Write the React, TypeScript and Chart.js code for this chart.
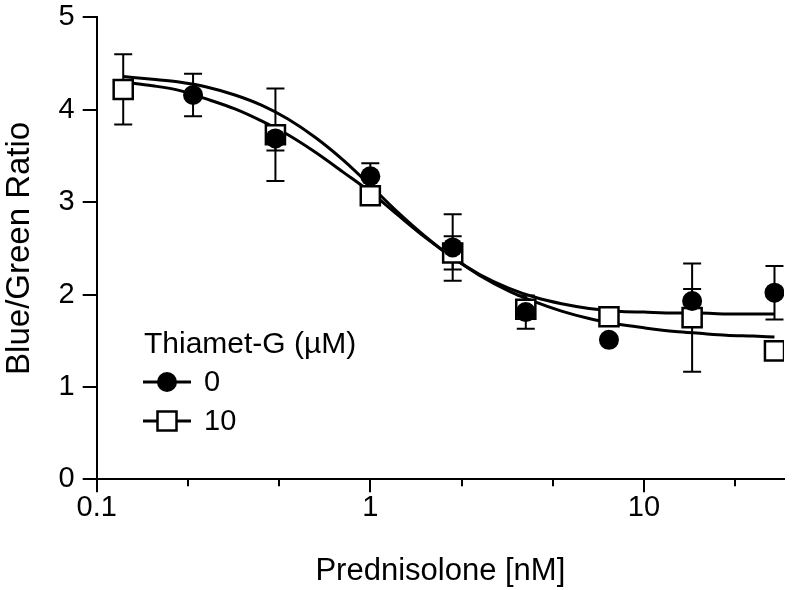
import React, { useEffect, useRef } from "react";
import { Chart, registerables } from "chart.js";

Chart.register(...registerables);

// ---- data ----
const doses = [0.125, 0.225, 0.45, 1.0, 2.0, 3.7, 7.45, 15, 30];
const ratio0 = [null, 4.16, 3.69, 3.28, 2.51, 1.81, 1.51, 1.93, 2.02];
const err0 = [null, 0.23, 0.13, 0.14, 0.36, 0.18, 0, 0.13, 0.29];
const ratio10 = [4.22, null, 3.73, 3.07, 2.45, 1.84, 1.76, 1.75, 1.39];
const err10 = [0.38, null, 0.5, 0, 0.18, 0, 0, 0.585, 0];

const fitX = [0.125, 0.16, 0.2, 0.25, 0.32, 0.4, 0.5, 0.63, 0.8, 1.0, 1.25, 1.6, 2.0, 2.5, 3.2, 4.0, 5.0, 6.3, 8.0, 10, 13, 16, 20, 25, 30];
const fit0 = [4.36, 4.33, 4.3, 4.25, 4.16, 4.05, 3.9, 3.7, 3.45, 3.18, 2.9, 2.62, 2.4, 2.22, 2.07, 1.97, 1.9, 1.85, 1.82, 1.81, 1.8, 1.8, 1.79, 1.79, 1.79];
const fit10 = [4.3, 4.26, 4.21, 4.12, 4.01, 3.88, 3.73, 3.54, 3.32, 3.11, 2.87, 2.61, 2.4, 2.21, 2.04, 1.92, 1.82, 1.74, 1.68, 1.64, 1.6, 1.58, 1.56, 1.55, 1.54];

const xTickValues = [0.1, 0.2154, 0.4642, 1, 2.154, 4.642, 10, 21.54];
const xTickLabels = ["0.1", "", "", "1", "", "", "10", ""];
const yTickValues = [0, 1, 2, 3, 4, 5];

const seriesLabels = ["0", "10"];
const legendTitle = "Thiamet-G (\u00b5M)";
const xTitle = "Prednisolone [nM]";
const yTitle = "Blue/Green Ratio";

const FONT = "'Liberation Sans', Arial, sans-serif";

const errorBarPlugin = {
  id: "errorBars",
  beforeDatasetsDraw(chart: any) {
    const { ctx } = chart;
    const xs = chart.scales.x;
    const ys = chart.scales.y;
    ctx.save();
    ctx.strokeStyle = "#000";
    ctx.lineWidth = 2;
    const series = [
      [ratio10, err10],
      [ratio0, err0],
    ];
    series.forEach(([vals, errs]: any) => {
      vals.forEach((v: number | null, i: number) => {
        const e = errs[i];
        if (v == null || !e) return;
        const px = xs.getPixelForValue(doses[i]);
        const top = ys.getPixelForValue(v + e);
        const bot = ys.getPixelForValue(v - e);
        ctx.beginPath();
        ctx.moveTo(px, top);
        ctx.lineTo(px, bot);
        ctx.moveTo(px - 9, top);
        ctx.lineTo(px + 9, top);
        ctx.moveTo(px - 9, bot);
        ctx.lineTo(px + 9, bot);
        ctx.stroke();
      });
    });
    ctx.restore();
  },
};

const axisTickPlugin = {
  id: "axisTicks",
  afterDraw(chart: any) {
    const { ctx, chartArea } = chart;
    const xs = chart.scales.x;
    const ys = chart.scales.y;
    ctx.save();
    ctx.strokeStyle = "#000";
    ctx.lineWidth = 2;
    ctx.beginPath();
    xTickValues.forEach((v, i) => {
      const px = Math.round(xs.getPixelForValue(v));
      const len = xTickLabels[i] ? 13 : 7;
      ctx.moveTo(px, chartArea.bottom);
      ctx.lineTo(px, chartArea.bottom + len);
    });
    yTickValues.forEach((v) => {
      const py = Math.round(ys.getPixelForValue(v));
      ctx.moveTo(chartArea.left - 14, py);
      ctx.lineTo(chartArea.left, py);
    });
    ctx.stroke();
    ctx.restore();
  },
};

const legendPlugin = {
  id: "customLegend",
  afterDraw(chart: any) {
    const { ctx } = chart;
    ctx.save();
    ctx.fillStyle = "#000";
    ctx.font = `30px ${FONT}`;
    ctx.textBaseline = "alphabetic";
    ctx.textAlign = "left";
    ctx.fillText(legendTitle, 144, 353);
    const rows = [382, 421];
    rows.forEach((y, i) => {
      ctx.strokeStyle = "#000";
      ctx.lineWidth = 3;
      ctx.beginPath();
      ctx.moveTo(143, y);
      ctx.lineTo(191, y);
      ctx.stroke();
      if (i === 0) {
        ctx.beginPath();
        ctx.arc(167, y, 10, 0, Math.PI * 2);
        ctx.fillStyle = "#000";
        ctx.fill();
      } else {
        ctx.fillStyle = "#fff";
        ctx.fillRect(157.5, y - 9.5, 19, 19);
        ctx.lineWidth = 2.5;
        ctx.strokeRect(157.5, y - 9.5, 19, 19);
      }
      ctx.fillStyle = "#000";
      ctx.font = `29px ${FONT}`;
      ctx.textBaseline = "middle";
      ctx.fillText(seriesLabels[i], 204, y + 1);
    });
    ctx.restore();
  },
};

export default function App() {
  const ref = useRef<HTMLCanvasElement | null>(null);

  useEffect(() => {
    document.body.style.margin = "0";
    if (!ref.current) return;
    const toPts = (xs: number[], ys: (number | null)[]) =>
      xs.map((x, i) => ({ x, y: ys[i] })).filter((p) => p.y != null);

    const hiddenGrid = (len: number) => ({
      display: true,
      drawOnChartArea: false,
      drawTicks: true,
      tickLength: len,
      tickColor: "rgba(0,0,0,0)",
      color: "rgba(0,0,0,0)",
    });

    const chart = new Chart(ref.current, {
      type: "scatter",
      data: {
        datasets: [
          {
            label: seriesLabels[0],
            data: toPts(doses, ratio0) as any,
            pointStyle: "circle",
            pointRadius: 10,
            pointHoverRadius: 10,
            backgroundColor: "#000",
            borderColor: "#000",
            borderWidth: 0,
            order: 0,
          },
          {
            label: seriesLabels[1],
            data: toPts(doses, ratio10) as any,
            pointStyle: "rect",
            pointRadius: 13.5,
            pointHoverRadius: 13.5,
            backgroundColor: "#fff",
            borderColor: "#000",
            borderWidth: 2.5,
            order: 1,
          },
          {
            label: "fit 0",
            data: toPts(fitX, fit0) as any,
            showLine: true,
            pointRadius: 0,
            borderColor: "#000",
            borderWidth: 3,
            cubicInterpolationMode: "monotone",
            fill: false,
            order: 2,
          },
          {
            label: "fit 10",
            data: toPts(fitX, fit10) as any,
            showLine: true,
            pointRadius: 0,
            borderColor: "#000",
            borderWidth: 3,
            cubicInterpolationMode: "monotone",
            fill: false,
            order: 3,
          },
        ],
      },
      options: {
        animation: false,
        responsive: true,
        maintainAspectRatio: false,
        layout: { padding: { left: 0, right: 5, top: 15, bottom: 0 } },
        plugins: {
          legend: { display: false },
          tooltip: { enabled: false },
        },
        scales: {
          x: {
            type: "logarithmic",
            position: "bottom",
            min: 0.1,
            max: 32.5,
            grid: hiddenGrid(11) as any,
            border: { display: true, color: "#000", width: 2 },
            afterBuildTicks: (s: any) => {
              s.ticks = xTickValues.map((v) => ({ value: v }));
            },
            afterFit: (s: any) => {
              s.height = 110.7;
            },
            ticks: {
              autoSkip: false,
              maxRotation: 0,
              padding: 0,
              color: "#000",
              font: { family: FONT, size: 29 },
              callback: (v: any) => {
                const idx = xTickValues.findIndex((t) => Math.abs(t - Number(v)) < 1e-6);
                return idx >= 0 ? xTickLabels[idx] : "";
              },
            },
            title: {
              display: true,
              text: xTitle,
              color: "#000",
              font: { family: FONT, size: 31 },
              padding: { top: 0, bottom: 0 },
            },
          },
          y: {
            type: "linear",
            min: 0,
            max: 5,
            grid: hiddenGrid(22) as any,
            border: { display: true, color: "#000", width: 2 },
            afterBuildTicks: (s: any) => {
              s.ticks = yTickValues.map((v) => ({ value: v }));
            },
            afterFit: (s: any) => {
              s.width = 96.7;
            },
            ticks: {
              padding: 0,
              color: "#000",
              font: { family: FONT, size: 29 },
              callback: (v: any) => String(v),
            },
            title: {
              display: true,
              text: yTitle,
              color: "#000",
              font: { family: FONT, size: 33 },
              padding: { top: 0, bottom: 0 },
            },
          },
        },
      },
      plugins: [errorBarPlugin, axisTickPlugin, legendPlugin],
    });
    return () => chart.destroy();
  }, []);

  return (
    <div style={{ width: 800, height: 590, position: "relative" }}>
      <canvas ref={ref} />
    </div>
  );
}
